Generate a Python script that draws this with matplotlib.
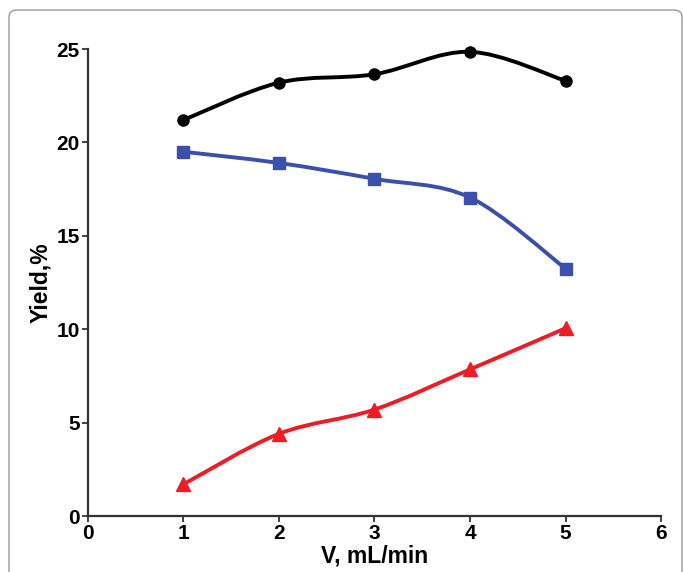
import matplotlib.pyplot as plt
from matplotlib.path import Path
from matplotlib.patches import PathPatch, FancyBboxPatch

x = [1, 2, 3, 4, 5]
black_y = [21.2, 23.2, 23.65, 24.85, 23.3]
blue_y = [19.5, 18.9, 18.05, 17.05, 13.25]
red_y = [1.7, 4.4, 5.7, 7.85, 10.05]

xticks = [0, 1, 2, 3, 4, 5, 6]
yticks = [0, 5, 10, 15, 20, 25]


def smooth_path(xs, ys):
    # catmull-rom through the points, as cubic bezier segments
    pts = list(zip(xs, ys))
    verts = [pts[0]]
    codes = [Path.MOVETO]
    n = len(pts)
    for i in range(n - 1):
        p0 = pts[i - 1] if i > 0 else pts[i]
        p1 = pts[i]
        p2 = pts[i + 1]
        p3 = pts[i + 2] if i + 2 < n else pts[i + 1]
        c1 = (p1[0] + (p2[0] - p0[0]) / 6, p1[1] + (p2[1] - p0[1]) / 6)
        c2 = (p2[0] - (p3[0] - p1[0]) / 6, p2[1] - (p3[1] - p1[1]) / 6)
        verts += [c1, c2, p2]
        codes += [Path.CURVE4] * 3
    return Path(verts, codes)


def run():
    plt.rcParams['font.family'] = ['Liberation Sans', 'DejaVu Sans']
    fig = plt.figure(figsize=(6.83, 5.72), dpi=100)
    ax = fig.add_axes([0.1288, 0.0979, 0.8390, 0.8164])

    series = [
        (black_y, 'black', 'o', 8),
        (blue_y, '#3a4fae', 's', 8),
        (red_y, '#ee1c24', '^', 10.5),
    ]
    for ys, col, mk, ms in series:
        ax.add_patch(PathPatch(smooth_path(x, ys), fill=False,
                               edgecolor=col, lw=2.8, zorder=2))
        ax.plot(x, ys, linestyle='none', marker=mk, color=col,
                markersize=ms, zorder=3, clip_on=False)

    ax.set_xlim(0, 6)
    ax.set_ylim(0, 25)
    ax.set_xticks(xticks)
    ax.set_yticks(yticks)
    for s in ['top', 'right']:
        ax.spines[s].set_visible(False)
    for s in ['left', 'bottom']:
        ax.spines[s].set_linewidth(1.6)
        ax.spines[s].set_color('#333333')
    ax.tick_params(direction='out', length=4, width=1.3, color='#333333',
                   labelsize=15, pad=2)
    for lab in ax.get_xticklabels() + ax.get_yticklabels():
        lab.set_fontweight('bold')
    ax.set_xlabel('V, mL/min', fontsize=16.5, fontweight='bold', labelpad=1)
    ax.set_ylabel('Yield,%', fontsize=16.5, fontweight='bold', labelpad=3)

    frame = FancyBboxPatch((9 / 683, -0.05), 673 / 683, 1 - 10 / 572 + 0.05,
                           boxstyle='round,pad=0,rounding_size=0.012',
                           transform=fig.transFigure, fill=False,
                           edgecolor='#9a9a9a', lw=1.0, zorder=0)
    fig.patches.append(frame)

    fig.savefig('out.png', dpi=100)


if __name__ == '__main__':
    run()
